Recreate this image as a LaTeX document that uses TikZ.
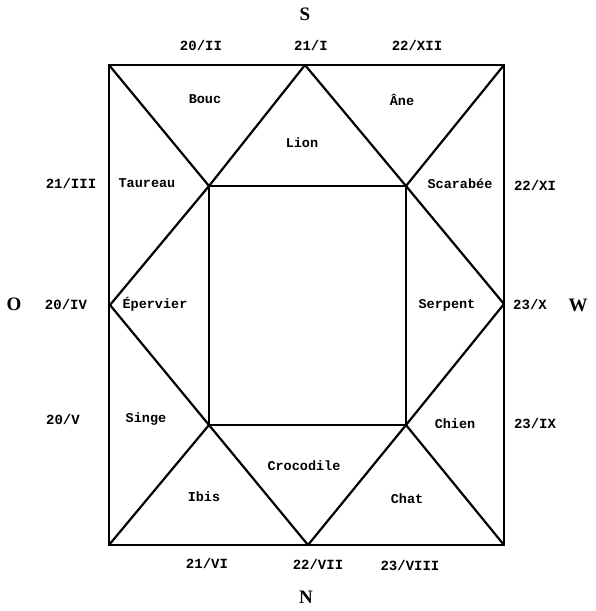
\documentclass[tikz,border=0pt]{standalone}
\usepackage{fontspec}
\setmainfont{Liberation Serif}
\setmonofont{Liberation Mono}
\begin{document}
\begin{tikzpicture}[x=1pt,y=-1pt,
  edge/.style={line width=2.2pt,line join=round,line cap=round},
  animal/.style={font=\ttfamily\bfseries\fontsize{13.5}{13.5}\selectfont,inner sep=0pt},
  date/.style={font=\ttfamily\bfseries\fontsize{14}{14}\selectfont,inner sep=0pt},
  dir/.style={font=\bfseries\fontsize{19}{19}\selectfont,inner sep=0pt}]
\useasboundingbox (0,0) rectangle (596,611);
% corners of outer frame
\coordinate (TL) at (109,65);
\coordinate (TR) at (504,65);
\coordinate (BL) at (109,545);
\coordinate (BR) at (504,545);
% apexes
\coordinate (AT) at (305,65);
\coordinate (AB) at (308,545);
\coordinate (AL) at (110,305);
\coordinate (AR) at (504,304);
% inner square
\coordinate (ITL) at (209,186);
\coordinate (ITR) at (406,186);
\coordinate (IBL) at (209,425);
\coordinate (IBR) at (406,425);
% frames
\draw[edge] (TL) -- (TR) -- (BR) -- (BL) -- cycle;
\draw[edge] (ITL) -- (ITR) -- (IBR) -- (IBL) -- cycle;
% diagonals
\draw[edge] (TL) -- (ITL) -- (AT) -- (ITR) -- (TR);
\draw[edge] (ITL) -- (AL) -- (IBL);
\draw[edge] (ITR) -- (AR) -- (IBR);
\draw[edge] (BL) -- (IBL) -- (AB) -- (IBR) -- (BR);
% directions
\node[dir] (S) at (305,14) {S};
\node[dir] (N) at (306,597) {N};
\node[dir] (O) at (14,304) {O};
\node[dir] (W) at (578,305) {W};
% dates
\node[date] (d1) at (201,45) {20/II};
\node[date] (d2) at (311,45) {21/I};
\node[date] (d3) at (417,45) {22/XII};
\node[date] (d4) at (71,183) {21/III};
\node[date] (d5) at (66,304) {20/IV};
\node[date] (d6) at (63,419) {20/V};
\node[date] (d7) at (535,185) {22/XI};
\node[date] (d8) at (530,305) {23/X};
\node[date] (d9) at (535,424) {23/IX};
\node[date] (d10) at (207,563) {21/VI};
\node[date] (d11) at (318,564) {22/VII};
\node[date] (d12) at (410,565) {23/VIII};
% animals
\node[animal] (bouc) at (205,99) {Bouc};
\node[animal] (ane) at (402,100) {Âne};
\node[animal] (lion) at (302,143) {Lion};
\node[animal] (taureau) at (147,183) {Taureau};
\node[animal] (scarabee) at (460,184) {Scarabée};
\node[animal] (epervier) at (155,304) {Épervier};
\node[animal] (serpent) at (447,305) {Serpent};
\node[animal] (singe) at (146,419) {Singe};
\node[animal] (chien) at (455,424) {Chien};
\node[animal] (crocodile) at (304,466) {Crocodile};
\node[animal] (ibis) at (204,497) {Ibis};
\node[animal] (chat) at (407,499) {Chat};
\end{tikzpicture}
\end{document}
